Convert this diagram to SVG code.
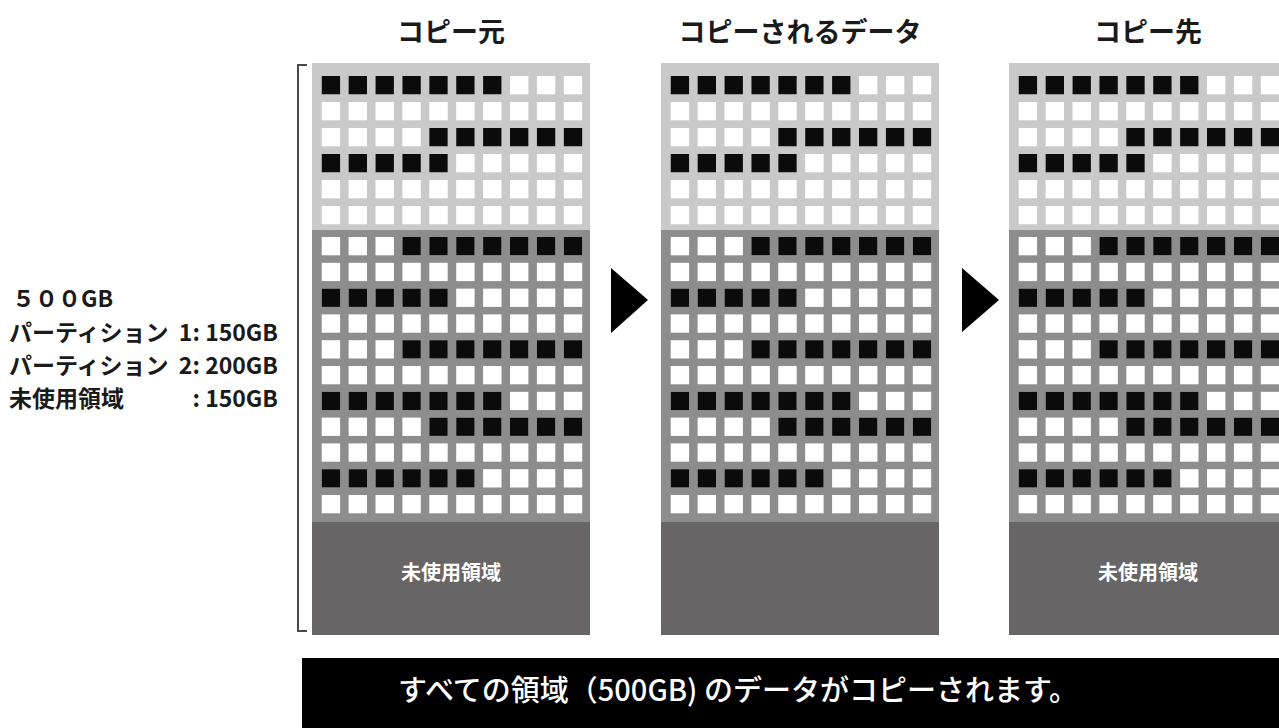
<svg xmlns="http://www.w3.org/2000/svg" xmlns:xlink="http://www.w3.org/1999/xlink" width="1279" height="728" viewBox="0 0 1279 728">
<style>
.t{font-family:"Noto Sans CJK JP","Noto Sans",sans-serif;}
.title{font-size:27px;font-weight:700;fill:#1a1a1a;text-anchor:middle;}
.side{font-size:23px;font-weight:700;fill:#1a1a1a;}
.un{font-size:20px;font-weight:700;fill:#ffffff;text-anchor:middle;}
.ban{font-size:29px;font-weight:500;fill:#ffffff;}
.w{fill:#ffffff;}
.k{fill:#0b0b0b;}
.arrow{fill:#000000;}
</style>
<defs>
<g id="wr">
<rect class="w" x="9.7" y="0" width="18.4" height="18.3"/>
<rect class="w" x="36.6" y="0" width="18.4" height="18.3"/>
<rect class="w" x="63.5" y="0" width="18.4" height="18.3"/>
<rect class="w" x="90.4" y="0" width="18.4" height="18.3"/>
<rect class="w" x="117.3" y="0" width="18.4" height="18.3"/>
<rect class="w" x="144.2" y="0" width="18.4" height="18.3"/>
<rect class="w" x="171.1" y="0" width="18.4" height="18.3"/>
<rect class="w" x="198" y="0" width="18.4" height="18.3"/>
<rect class="w" x="224.9" y="0" width="18.4" height="18.3"/>
<rect class="w" x="251.8" y="0" width="18.4" height="18.3"/>
</g>
<g id="panel">
<rect x="0" y="0" width="278" height="167" fill="#c9c9c9"/>
<rect x="0" y="167" width="278" height="292" fill="#8d8d8d"/>
<rect x="0" y="459" width="278" height="113" fill="#676566"/>
<use xlink:href="#wr" y="13"/>
<use xlink:href="#wr" y="39"/>
<use xlink:href="#wr" y="65"/>
<use xlink:href="#wr" y="91"/>
<use xlink:href="#wr" y="117"/>
<use xlink:href="#wr" y="143"/>
<use xlink:href="#wr" y="174"/>
<use xlink:href="#wr" y="199.8"/>
<use xlink:href="#wr" y="225.6"/>
<use xlink:href="#wr" y="251.4"/>
<use xlink:href="#wr" y="277.2"/>
<use xlink:href="#wr" y="303"/>
<use xlink:href="#wr" y="328.8"/>
<use xlink:href="#wr" y="354.6"/>
<use xlink:href="#wr" y="380.4"/>
<use xlink:href="#wr" y="406.2"/>
<use xlink:href="#wr" y="432"/>
<g class="k">
<rect x="9.7" y="13" width="18.4" height="18.3"/><rect x="36.6" y="13" width="18.4" height="18.3"/><rect x="63.5" y="13" width="18.4" height="18.3"/><rect x="90.4" y="13" width="18.4" height="18.3"/><rect x="117.3" y="13" width="18.4" height="18.3"/><rect x="144.2" y="13" width="18.4" height="18.3"/><rect x="171.1" y="13" width="18.4" height="18.3"/>
<rect x="117.3" y="65" width="18.4" height="18.3"/><rect x="144.2" y="65" width="18.4" height="18.3"/><rect x="171.1" y="65" width="18.4" height="18.3"/><rect x="198" y="65" width="18.4" height="18.3"/><rect x="224.9" y="65" width="18.4" height="18.3"/><rect x="251.8" y="65" width="18.4" height="18.3"/>
<rect x="9.7" y="91" width="18.4" height="18.3"/><rect x="36.6" y="91" width="18.4" height="18.3"/><rect x="63.5" y="91" width="18.4" height="18.3"/><rect x="90.4" y="91" width="18.4" height="18.3"/><rect x="117.3" y="91" width="18.4" height="18.3"/>
<rect x="90.4" y="174" width="18.4" height="18.3"/><rect x="117.3" y="174" width="18.4" height="18.3"/><rect x="144.2" y="174" width="18.4" height="18.3"/><rect x="171.1" y="174" width="18.4" height="18.3"/><rect x="198" y="174" width="18.4" height="18.3"/><rect x="224.9" y="174" width="18.4" height="18.3"/><rect x="251.8" y="174" width="18.4" height="18.3"/>
<rect x="9.7" y="225.6" width="18.4" height="18.3"/><rect x="36.6" y="225.6" width="18.4" height="18.3"/><rect x="63.5" y="225.6" width="18.4" height="18.3"/><rect x="90.4" y="225.6" width="18.4" height="18.3"/><rect x="117.3" y="225.6" width="18.4" height="18.3"/>
<rect x="90.4" y="277.2" width="18.4" height="18.3"/><rect x="117.3" y="277.2" width="18.4" height="18.3"/><rect x="144.2" y="277.2" width="18.4" height="18.3"/><rect x="171.1" y="277.2" width="18.4" height="18.3"/><rect x="198" y="277.2" width="18.4" height="18.3"/><rect x="224.9" y="277.2" width="18.4" height="18.3"/><rect x="251.8" y="277.2" width="18.4" height="18.3"/>
<rect x="9.7" y="328.8" width="18.4" height="18.3"/><rect x="36.6" y="328.8" width="18.4" height="18.3"/><rect x="63.5" y="328.8" width="18.4" height="18.3"/><rect x="90.4" y="328.8" width="18.4" height="18.3"/><rect x="117.3" y="328.8" width="18.4" height="18.3"/><rect x="144.2" y="328.8" width="18.4" height="18.3"/><rect x="171.1" y="328.8" width="18.4" height="18.3"/>
<rect x="117.3" y="354.6" width="18.4" height="18.3"/><rect x="144.2" y="354.6" width="18.4" height="18.3"/><rect x="171.1" y="354.6" width="18.4" height="18.3"/><rect x="198" y="354.6" width="18.4" height="18.3"/><rect x="224.9" y="354.6" width="18.4" height="18.3"/><rect x="251.8" y="354.6" width="18.4" height="18.3"/>
<rect x="9.7" y="406.2" width="18.4" height="18.3"/><rect x="36.6" y="406.2" width="18.4" height="18.3"/><rect x="63.5" y="406.2" width="18.4" height="18.3"/><rect x="90.4" y="406.2" width="18.4" height="18.3"/><rect x="117.3" y="406.2" width="18.4" height="18.3"/><rect x="144.2" y="406.2" width="18.4" height="18.3"/>
</g>
</g>
</defs>
<rect x="0" y="0" width="1279" height="728" fill="#ffffff"/>

<g id="side-label" class="t side">
<text x="12" y="307">５００GB</text>
<text y="341"><tspan x="9">パーティション</tspan><tspan x="278" text-anchor="end">1: 150GB</tspan></text>
<text y="374"><tspan x="9">パーティション</tspan><tspan x="278" text-anchor="end">2: 200GB</tspan></text>
<text y="407"><tspan x="9">未使用領域</tspan><tspan x="278" text-anchor="end">: 150GB</tspan></text>
</g>
<path id="bracket" d="M307,65 H298 V631 H307" fill="none" stroke="#4a4a4a" stroke-width="2"/>

<g id="source">
<text class="t title" x="451" y="42">コピー元</text>
<use xlink:href="#panel" x="312" y="63"/>
<text class="t un" x="451" y="580">未使用領域</text>
</g>
<g id="copied">
<text class="t title" x="800" y="42">コピーされるデータ</text>
<use xlink:href="#panel" x="661" y="63"/>
</g>
<g id="destination">
<text class="t title" x="1148" y="42">コピー先</text>
<use xlink:href="#panel" x="1009" y="63"/>
<text class="t un" x="1148" y="580">未使用領域</text>
</g>

<g id="connectors">
<polygon class="arrow" points="611,268 648,300 611,333"/>
<polygon class="arrow" points="962,268 999,300 962,332"/>
</g>

<g id="banner">
<rect x="302" y="658" width="977" height="70" fill="#000000"/>
<text class="t ban" x="398" y="701">すべての領域（500GB) のデータがコピーされます。</text>
</g>
</svg>
